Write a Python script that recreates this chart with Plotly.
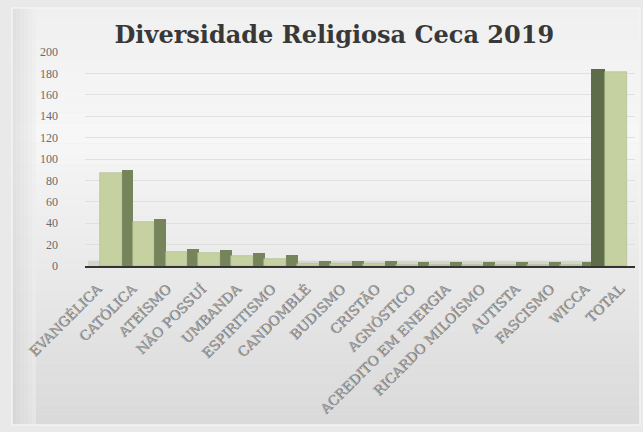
import plotly.graph_objects as go

categories = ["EVANGÉLICA", "CATÓLICA", "ATEÍSMO", "NÃO POSSUÍ", "UMBANDA", "ESPIRITISMO",
              "CANDOMBLÉ", "BUDISMO", "CRISTÃO", "AGNÓSTICO", "ACREDITO EM ENERGIA",
              "RICARDO MILOÍSMO", "AUTISTA", "FASCISMO", "WICCA", "TOTAL"]
values = [87, 41, 13, 12, 9, 7, 2, 2, 2, 1, 1, 1, 1, 1, 1, 181]
y_ticks = [0, 20, 40, 60, 80, 100, 120, 140, 160, 180, 200]

n = len(categories)
xs = list(range(n))
last = n - 1

# side (depth) face: right side for left bars, left side for the last bar (perspective)
side_off = [0.14 if i != last else -0.58 for i in xs]
side_w = [0.36 if i != last else 0.42 for i in xs]
front_off = [-0.52 if i != last else -0.16 for i in xs]
front_w = [0.66] * n
side_col = ["#76845c" if i != last else "#5f6c49" for i in xs]
depth = 3
side_h = [v + depth for v in values]

# label anchors spread a little wider than the bars (perspective of the 3D floor)
label_pos = [-0.60 + 1.0593 * i for i in xs]

fig = go.Figure()

W, H = 643, 432
pt, pb, pl, pr = 52, 166, 85, 8
ph = H - pt - pb
pw = W - pl - pr
def py(px):
    return (H - pb - px) / ph
def pxx(px):
    return (px - pl) / pw
def lerp(a, b, t):
    return int(round(a + (b - a) * t))

shapes = []
steps = 40
top_px, bot_px = 8, 425
for k in range(steps):
    y0p = top_px + (bot_px - top_px) * k / steps
    y1p = top_px + (bot_px - top_px) * (k + 1) / steps
    t = k / (steps - 1)
    if t < 0.3:
        c = lerp(240, 247, t / 0.3)
    else:
        c = lerp(247, 218, (t - 0.3) / 0.7)
    shapes.append(dict(type="rect", xref="paper", yref="paper",
                       x0=pxx(12), x1=pxx(640), y0=py(y1p), y1=py(y0p),
                       fillcolor=f"rgb({c},{c},{c})", line_width=0, layer="below"))
for k in range(6):
    c = lerp(214, 236, k / 5)
    shapes.append(dict(type="rect", xref="paper", yref="paper",
                       x0=pxx(12 + k * 4), x1=pxx(16 + k * 4), y0=py(bot_px), y1=py(top_px),
                       fillcolor=f"rgba({c},{c},{c},0.6)", line_width=0, layer="below"))
shapes.append(dict(type="rect", xref="paper", yref="paper",
                   x0=pxx(12), x1=pxx(640), y0=py(bot_px), y1=py(top_px),
                   fillcolor="rgba(0,0,0,0)", line=dict(color="#f4f4f4", width=1.5), layer="below"))
shapes.append(dict(type="rect", xref="paper", yref="y",
                   x0=pxx(88), x1=pxx(625), y0=0, y1=5,
                   fillcolor="rgba(190,196,178,0.55)", line_width=0, layer="below"))

fig.add_trace(go.Bar(x=xs, y=side_h, offset=side_off, width=side_w,
                     marker=dict(color=side_col, line=dict(width=0)),
                     hoverinfo="skip", showlegend=False))
fig.add_trace(go.Bar(x=xs, y=values, offset=front_off, width=front_w,
                     marker=dict(color="#c6d1a2", line=dict(color="#aab889", width=0.6)),
                     showlegend=False))

fig.update_layout(
    width=W, height=H,
    margin=dict(l=pl, r=pr, t=pt, b=pb),
    paper_bgcolor="#e9e9e9",
    plot_bgcolor="rgba(0,0,0,0)",
    barmode="overlay",
    bargap=0,
    shapes=shapes,
    title=dict(text="<b>Diversidade Religiosa Ceca 2019</b>", x=0.52, xanchor="center",
               y=1 - 35 / H, yanchor="middle",
               font=dict(family="DejaVu Serif", size=24, color="#383838")),
    font=dict(family="DejaVu Serif", color="#666666"),
)
fig.update_yaxes(range=[0, 200], tickvals=y_ticks, showgrid=True, gridcolor="#e0e0e0",
                 gridwidth=1, zeroline=False, showline=False, ticks="",
                 tickfont=dict(family="Liberation Serif", size=12, color="#6a6a6a"),
                 ticklabelstandoff=26)
fig.update_xaxes(range=[-0.97, 15.75], tickvals=label_pos, ticktext=categories, tickangle=-45,
                 showline=True, linecolor="#333333", linewidth=1.5, showgrid=False,
                 zeroline=False, ticks="",
                 tickfont=dict(family="DejaVu Serif", size=13.5, color="#a4a4a4",
                               shadow="0.7px 0.7px 0.6px #6a6a6a"),
                 ticklabelstandoff=8)

fig.write_html("out.html")
